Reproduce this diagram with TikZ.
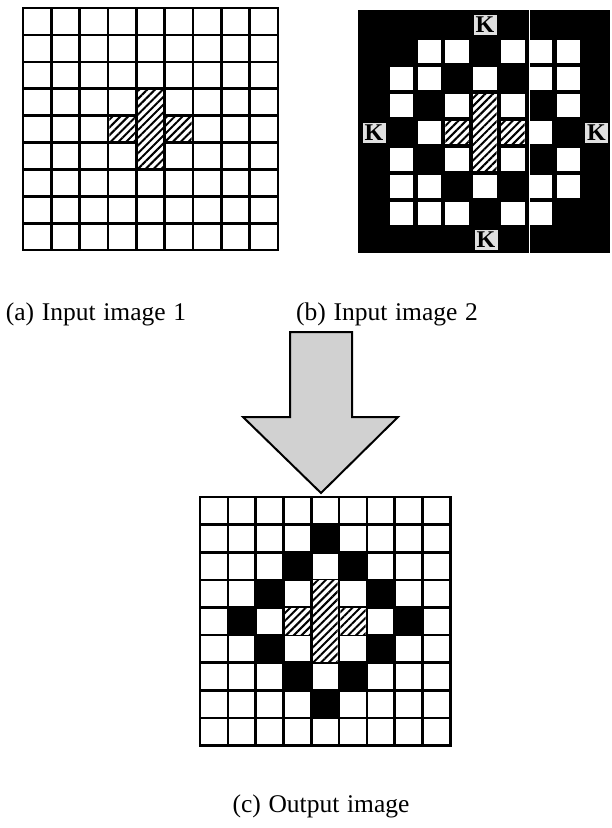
\documentclass[tikz,border=0pt]{standalone}
\usepackage{fontspec}
\setmainfont{Liberation Serif}
\usetikzlibrary{patterns.meta}
\newcommand\mycapfont{\fontsize{25.5}{30}\selectfont\spaceskip=0.3em plus 0.1em\relax}
\begin{document}
\begin{tikzpicture}[x=1pt,y=-1pt,
  gridline/.style={line width=2.6pt, line cap=rect},
  hatch/.style={fill=white, postaction={pattern={Lines[angle=45,distance=5.5pt,line width=2pt]}, pattern color=black}},
  caption/.style={font=\mycapfont, inner sep=0pt, anchor=base},
  kbox/.style={fill=black!12, inner sep=0pt, minimum width=23pt, minimum height=20pt, font=\fontsize{24}{26}\selectfont\bfseries},
  arrowshape/.style={fill=black!18, draw=black, line width=2pt, line join=miter},
  whitesq/.style={fill=white},
  blackcell/.style={fill=black}
]
\useasboundingbox (0,0) rectangle (611,828);

% ---------- Input image 1 ----------
\foreach \i in {0,...,9} {
  \draw[gridline] ({23+\i*28.33},8) -- ({23+\i*28.33},250);
  \draw[gridline] (23,{8+\i*26.9}) -- (278,{8+\i*26.9});
}
\path[hatch] (137.6,90) rectangle (163.4,168.1);
\path[hatch] (109.3,116.9) rectangle (135,141.2);
\path[hatch] (166,116.9) rectangle (191.7,141.2);

% ---------- Input image 2 ----------
\fill[black] (358,10) rectangle (610,253);
\foreach \r/\c in {1/2,1/3,1/5,1/6,1/7,
                   2/1,2/2,2/4,2/6,2/7,
                   3/1,3/3,3/5,3/7,
                   4/2,4/6,
                   5/1,5/3,5/5,5/7,
                   6/1,6/2,6/4,6/6,6/7,
                   7/1,7/2,7/3,7/5,7/6} {
  \path[whitesq] ({362+27.8*\c},{13+27*\r}) rectangle ++(23.5,23);
}
\path[hatch] (473.2,94) rectangle (496.7,171);
\path[hatch] (445.4,121) rectangle (468.9,144);
\path[hatch] (501,121) rectangle (524.5,144);
\draw[white, line width=0.8pt] (529,10) -- (529,253);
\node[kbox] (ktop) at (485,24.5) {K};
\node[kbox] (kleft) at (374,132.5) {K};
\node[kbox] (kright) at (596.5,132.5) {K};
\node[kbox] (kbot) at (486,239.5) {K};

% ---------- captions ----------
\node[caption] (capa) at (96,320) {(a) Input image 1};
\node[caption] (capb) at (387,320) {(b) Input image 2};
\node[caption] (capc) at (321,812) {(c) Output image};

% ---------- arrow ----------
\draw[arrowshape] (290,332) -- (352,332) -- (352,417) -- (398,417) -- (321,493) -- (243,417) -- (290,417) -- cycle;

% ---------- Output image ----------
\foreach \r/\c in {1/4,2/3,2/5,3/2,3/6,4/1,4/7,5/2,5/6,6/3,6/5,7/4} {
  \fill[black] ({200+27.8*\c},{497+27.6*\r}) rectangle ++(27.8,27.6);
}
\foreach \i in {0,...,9} {
  \draw[gridline] ({200+\i*27.8},497) -- ({200+\i*27.8},745.4);
  \draw[gridline] (200,{497+\i*27.6}) -- (450.2,{497+\i*27.6});
}
\path[hatch] (312.5,580.1) rectangle (337.7,662.2);
\path[hatch] (284.7,607.7) rectangle (309.9,634.6);
\path[hatch] (340.3,607.7) rectangle (365.5,634.6);
\end{tikzpicture}
\end{document}
